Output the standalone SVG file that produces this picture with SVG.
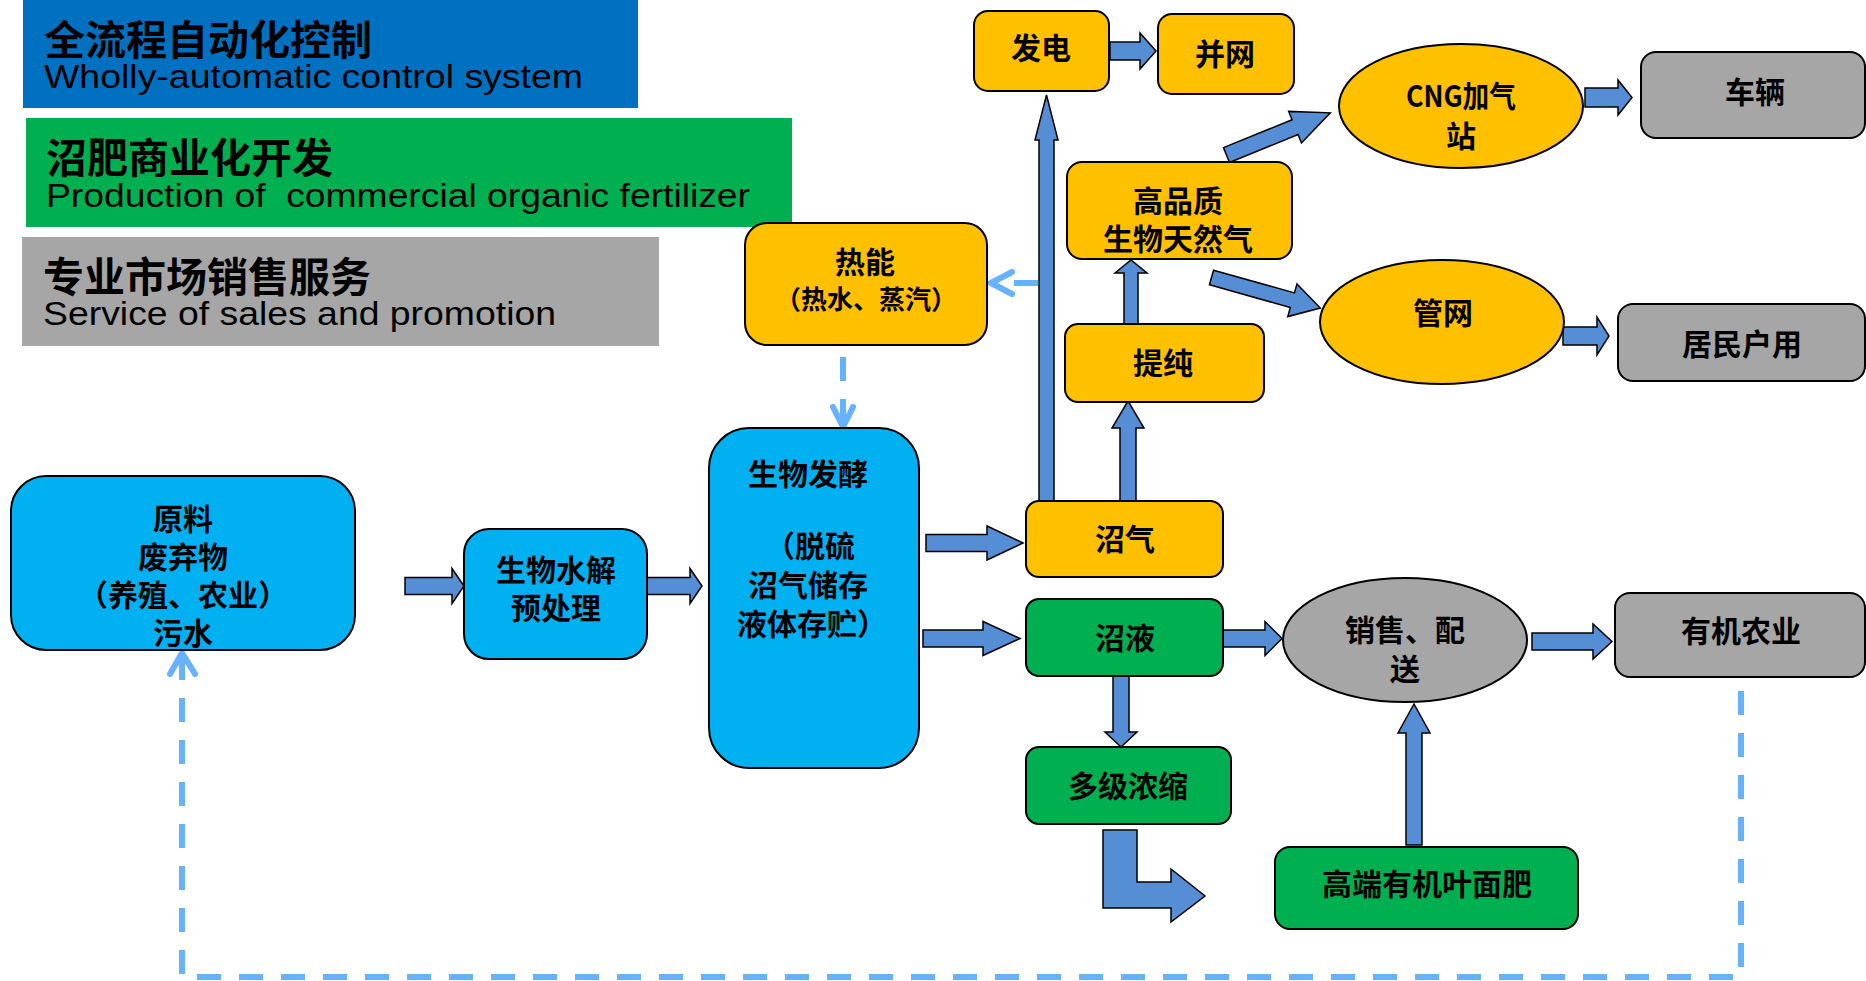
<svg xmlns="http://www.w3.org/2000/svg" width="1866" height="981" viewBox="0 0 1866 981">
<defs>
<style>
.cn{font-family:"Noto Sans CJK SC","Noto Sans CJK JP",sans-serif;font-weight:700;fill:#000;text-anchor:middle;dominant-baseline:central;font-size:30px}
.sm{font-size:26px}
.hcn{font-family:"Noto Sans CJK SC","Noto Sans CJK JP",sans-serif;font-weight:700;font-size:41px;dominant-baseline:central;fill:#000}
.hen{font-family:"Liberation Sans",Arial,sans-serif;font-size:33px;white-space:pre;fill:#000}
.node{stroke:#000;stroke-width:2}
.blue{fill:#00B0F0}.yel{fill:#FFC000}.grn{fill:#00B050}.gry{fill:#A6A6A6}
.ba{fill:#558ED5;stroke:#000;stroke-width:1.5;stroke-linejoin:miter}
.dash{fill:none;stroke:#66B2FF;stroke-width:6;stroke-dasharray:24 18}
.chev{fill:none;stroke:#66B2FF;stroke-width:6;stroke-linecap:round;stroke-linejoin:round}
</style>
</defs>
<rect x="0" y="0" width="1866" height="981" fill="#fff"/>

<g id="banner-auto">
<rect x="23" y="0" width="615" height="108" fill="#0070C0"/>
<text class="hcn" x="44" y="37">全流程自动化控制</text>
<text class="hen" x="44" y="88" textLength="539" lengthAdjust="spacingAndGlyphs">Wholly-automatic control system</text>
</g>
<g id="banner-fertilizer">
<rect x="26" y="118" width="766" height="109" fill="#00B050"/>
<text class="hcn" x="46" y="155">沼肥商业化开发</text>
<text class="hen" x="46" y="207" textLength="704" lengthAdjust="spacingAndGlyphs">Production of  commercial organic fertilizer</text>
</g>
<g id="banner-sales">
<rect x="22" y="237" width="637" height="109" fill="#A6A6A6"/>
<text class="hcn" x="43" y="274">专业市场销售服务</text>
<text class="hen" x="43" y="325" textLength="513" lengthAdjust="spacingAndGlyphs">Service of sales and promotion</text>
</g>

<g id="connectors">
<path class="dash" d="M1038 283 H993"/>
<path class="chev" d="M1012 272 L991 283 L1012 294"/>
<path class="dash" d="M843 357 V424"/>
<path class="chev" d="M833 407 L843 427 L853 407"/>
<path class="dash" d="M182 656 V977 H1741 V677"/>
<path class="chev" d="M170 674 L182 653 L195 674"/>

<polygon class="ba" points="405,577.5 452,577.5 452,568.5 464,586 452,603.5 452,594.5 405,594.5"/>
<polygon class="ba" points="647,577.5 690,577.5 690,568.5 702,586 690,603.5 690,594.5 647,594.5"/>
<polygon class="ba" points="926,534.5 987,534.5 987,526 1023,543 987,560 987,551.5 926,551.5"/>
<polygon class="ba" points="923,630 983,630 983,621.5 1020,638.5 983,655.5 983,647 923,647"/>
<polygon class="ba" points="1223,630 1265,630 1265,621.5 1282,638.5 1265,655.5 1265,647 1223,647"/>
<polygon class="ba" points="1532,633 1593,633 1593,624 1612,641.5 1593,659 1593,650 1532,650"/>
<polygon class="ba" points="1110,42 1140,42 1140,33 1156,51 1140,69 1140,60 1110,60"/>
<polygon class="ba" points="1585,88 1618,88 1618,80 1632,97.5 1618,115 1618,107 1585,107"/>
<polygon class="ba" points="1563,327 1597,327 1597,317 1609,336 1597,355 1597,345 1563,345"/>
<polygon class="ba" points="1113,676 1129,676 1129,732 1137,732 1121,747 1105,732 1113,732"/>
<polygon class="ba" points="1406,845 1422,845 1422,733 1430,733 1414,704 1398,733 1406,733"/>
<polygon class="ba" points="1120,502 1136,502 1136,428 1144,428 1128,401 1112,428 1120,428"/>
<polygon class="ba" points="1039,502 1054,502 1054,140 1058,140 1046.5,95 1035,140 1039,140"/>
<polygon class="ba" points="1124,324 1138,324 1138,273 1147,273 1131,260 1115,273 1124,273"/>
<polygon class="ba" points="1103,830 1137,830 1137,882 1171,882 1171,869 1205,896 1171,922 1171,908 1103,908"/>
<polygon class="ba" transform="translate(1226.5,155) rotate(-22.1)" points="0,-8 74,-8 74,-17 112,0 74,17 74,8 0,8"/>
<polygon class="ba" transform="translate(1211.5,277.5) rotate(15.7)" points="0,-7.6 84,-7.6 84,-17 113,0 84,17 84,7.6 0,7.6"/>
</g>

<g id="n-raw">
<rect class="node blue" x="11" y="476" width="344" height="174" rx="35"/>
<text class="cn" x="183" y="516.5">原料</text>
<text class="cn" x="183" y="555">废弃物</text>
<text class="cn" x="183" y="593">（养殖、农业）</text>
<text class="cn" x="183" y="631">污水</text>
</g>
<g id="n-hydrolysis">
<rect class="node blue" x="464" y="529" width="183" height="130" rx="25"/>
<text class="cn" x="556" y="568">生物水解</text>
<text class="cn" x="556" y="606">预处理</text>
</g>
<g id="n-ferment">
<rect class="node blue" x="709" y="428" width="210" height="340" rx="40"/>
<text class="cn" x="808" y="472">生物发酵</text>
<text class="cn" x="810" y="544">（脱硫</text>
<text class="cn" x="808" y="583">沼气储存</text>
<text class="cn" x="812" y="622">液体存贮）</text>
</g>
<g id="n-heat">
<rect class="node yel" x="745" y="223" width="242" height="122" rx="22"/>
<text class="cn" x="865" y="260">热能</text>
<text class="cn sm" x="866" y="297">（热水、蒸汽）</text>
</g>
<g id="n-power">
<rect class="node yel" x="974" y="11" width="135" height="80" rx="14"/>
<text class="cn" x="1041" y="46">发电</text>
</g>
<g id="n-grid">
<rect class="node yel" x="1158" y="14" width="136" height="80" rx="14"/>
<text class="cn" x="1225" y="52">并网</text>
</g>
<g id="n-biomethane">
<rect class="node yel" x="1067" y="162" width="225" height="97" rx="15"/>
<text class="cn" x="1178" y="199">高品质</text>
<text class="cn" x="1178" y="237">生物天然气</text>
</g>
<g id="n-purify">
<rect class="node yel" x="1065" y="324" width="199" height="78" rx="13"/>
<text class="cn" x="1163" y="361">提纯</text>
</g>
<g id="n-biogas">
<rect class="node yel" x="1026" y="501" width="197" height="76" rx="13"/>
<text class="cn" x="1125" y="537">沼气</text>
</g>
<g id="n-slurry">
<rect class="node grn" x="1026" y="599" width="197" height="77" rx="13"/>
<text class="cn" x="1125" y="636">沼液</text>
</g>
<g id="n-concentrate">
<rect class="node grn" x="1026" y="747" width="205" height="77" rx="13"/>
<text class="cn" x="1128" y="784">多级浓缩</text>
</g>
<g id="n-foliar">
<rect class="node grn" x="1275" y="847" width="303" height="82" rx="15"/>
<text class="cn" x="1427" y="882">高端有机叶面肥</text>
</g>
<g id="n-cng">
<ellipse class="node yel" cx="1461" cy="106" rx="122" ry="62"/>
<text class="cn" x="1461" y="94" textLength="110" lengthAdjust="spacingAndGlyphs">CNG加气</text>
<text class="cn" x="1461" y="134">站</text>
</g>
<g id="n-pipe">
<ellipse class="node yel" cx="1442" cy="322" rx="122" ry="62"/>
<text class="cn" x="1443" y="311">管网</text>
</g>
<g id="n-sales">
<ellipse class="node gry" cx="1405" cy="640" rx="122" ry="62"/>
<text class="cn" x="1405" y="628">销售、配</text>
<text class="cn" x="1405" y="667">送</text>
</g>
<g id="n-vehicle">
<rect class="node gry" x="1641" y="52" width="224" height="86" rx="15"/>
<text class="cn" x="1755" y="90">车辆</text>
</g>
<g id="n-household">
<rect class="node gry" x="1618" y="304" width="247" height="77" rx="15"/>
<text class="cn" x="1742" y="342">居民户用</text>
</g>
<g id="n-organic">
<rect class="node gry" x="1615" y="593" width="250" height="84" rx="15"/>
<text class="cn" x="1741" y="629">有机农业</text>
</g>
</svg>
